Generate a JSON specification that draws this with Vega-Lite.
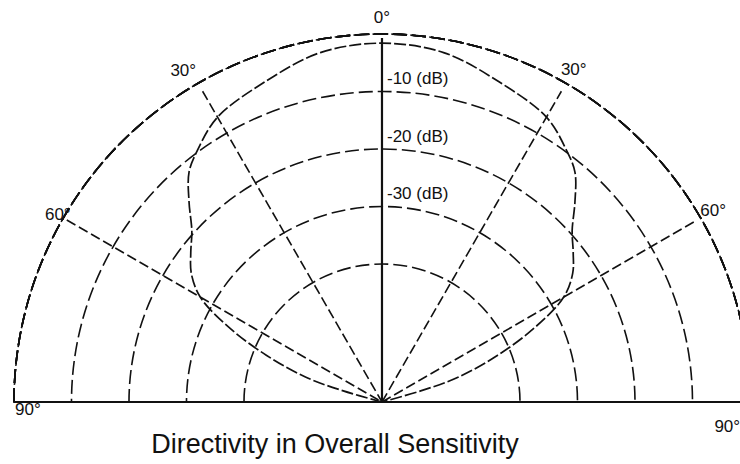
{
  "$schema": "https://vega.github.io/schema/vega-lite/v6.json",
  "width": 740,
  "height": 425,
  "autosize": {"type": "none"},
  "padding": {"left": 0, "top": 0, "right": 0, "bottom": 39},
  "background": "white",
  "config": {"view": {"stroke": null}, "font": "Liberation Sans"},
  "title": {"text": "Directivity in Overall Sensitivity", "orient": "bottom", "anchor": "middle", "dx": -35, "offset": -3, "fontSize": 27, "font": "Liberation Sans", "fontWeight": "normal", "color": "#111"},
  "datasets": {
    "rings": [
      {"db": 0, "from": -90, "to": 90},
      {"db": -10, "from": -90, "to": 90},
      {"db": -20, "from": -90, "to": 90},
      {"db": -30, "from": -90, "to": 90},
      {"db": -40, "from": -90, "to": 90}
    ],
    "spokes": [
      {"spoke": "-60", "angle": -60, "db": -64}, {"spoke": "-60", "angle": -60, "db": -0.7},
      {"spoke": "-30", "angle": -30, "db": -64}, {"spoke": "-30", "angle": -30, "db": -1.6},
      {"spoke": "30", "angle": 30, "db": -64}, {"spoke": "30", "angle": 30, "db": -1.6},
      {"spoke": "60", "angle": 60, "db": -64}, {"spoke": "60", "angle": 60, "db": -0.9}
    ],
    "axes": [
      {"spoke": "base", "angle": -90, "db": 0}, {"spoke": "base", "angle": 90, "db": 0},
      {"spoke": "zero", "angle": 0, "db": -64}, {"spoke": "zero", "angle": 0, "db": -0.7}
    ],
    "pattern": [
      {"i": 0, "angle": -76, "db": -64},
      {"i": 1, "angle": -74, "db": -57.0},
      {"i": 2, "angle": -72, "db": -50.1},
      {"i": 3, "angle": -68, "db": -42.3},
      {"i": 4, "angle": -64, "db": -34.4},
      {"i": 5, "angle": -60, "db": -27.5},
      {"i": 6, "angle": -56, "db": -24.0},
      {"i": 7, "angle": -52, "db": -21.8},
      {"i": 8, "angle": -48, "db": -19.5},
      {"i": 9, "angle": -44, "db": -15.7},
      {"i": 10, "angle": -40, "db": -11.8},
      {"i": 11, "angle": -36, "db": -9.6},
      {"i": 12, "angle": -30, "db": -6.8},
      {"i": 13, "angle": -20, "db": -4.7},
      {"i": 14, "angle": -10, "db": -2.3},
      {"i": 15, "angle": 0, "db": -1.6},
      {"i": 16, "angle": 10, "db": -2.3},
      {"i": 17, "angle": 20, "db": -4.7},
      {"i": 18, "angle": 30, "db": -6.8},
      {"i": 19, "angle": 36, "db": -9.6},
      {"i": 20, "angle": 40, "db": -11.8},
      {"i": 21, "angle": 44, "db": -15.7},
      {"i": 22, "angle": 48, "db": -19.5},
      {"i": 23, "angle": 52, "db": -21.8},
      {"i": 24, "angle": 56, "db": -24.0},
      {"i": 25, "angle": 60, "db": -27.5},
      {"i": 26, "angle": 64, "db": -34.4},
      {"i": 27, "angle": 68, "db": -42.3},
      {"i": 28, "angle": 72, "db": -50.1},
      {"i": 29, "angle": 74, "db": -57.0},
      {"i": 30, "angle": 76, "db": -64}
    ],
    "angleLabels": [
      {"label": "0°", "angle": 0, "db": 2.8},
      {"label": "30°", "angle": -31, "db": 3.1},
      {"label": "30°", "angle": 30, "db": 2.7},
      {"label": "60°", "angle": -60, "db": 1.1},
      {"label": "60°", "angle": 60, "db": 2.5},
      {"label": "90°", "angle": -91.3, "db": -2.4},
      {"label": "90°", "angle": 94.1, "db": -3.8}
    ],
    "levelLabels": [
      {"label": "-10 (dB)", "angle": 0, "db": -10},
      {"label": "-20 (dB)", "angle": 0, "db": -20},
      {"label": "-30 (dB)", "angle": 0, "db": -30}
    ]
  },
  "layer": [
    {
      "data": {"name": "spokes"},
      "transform": [
        {"calculate": "(datum.db + 64) * sin(datum.angle * PI / 180)", "as": "px"},
        {"calculate": "(datum.db + 64) * cos(datum.angle * PI / 180)", "as": "py"}
      ],
      "mark": {"type": "line", "stroke": "#111", "strokeWidth": 1.6, "strokeDash": [10, 4]},
      "encoding": {
        "x": {"field": "px", "type": "quantitative", "scale": {"domain": [-66.43, 62.26], "nice": false, "zero": false}, "axis": null},
        "y": {"field": "py", "type": "quantitative", "scale": {"domain": [-4.0, 69.91], "nice": false, "zero": false}, "axis": null},
        "detail": {"field": "spoke"}
      }
    },
    {
      "data": {"name": "rings"},
      "mark": {"type": "arc", "filled": false, "stroke": "#111", "strokeWidth": 1.6, "strokeDash": [14, 5], "x": {"expr": "scale('x', 0)"}, "y": {"expr": "scale('y', 0)"}},
      "encoding": {
        "theta": {"field": "from", "type": "quantitative", "stack": null, "scale": {"domain": [-90, 90], "range": [-1.5708, 1.5708]}},
        "theta2": {"field": "to"},
        "radius": {"field": "db", "type": "quantitative", "stack": null, "scale": {"type": "linear", "domain": [-64, 0], "range": [0, 368], "zero": false}}
      }
    },
    {
      "data": {"name": "axes"},
      "transform": [
        {"calculate": "(datum.db + 64) * sin(datum.angle * PI / 180)", "as": "px"},
        {"calculate": "(datum.db + 64) * cos(datum.angle * PI / 180)", "as": "py"}
      ],
      "mark": {"type": "line", "stroke": "#111", "strokeWidth": 2.2},
      "encoding": {
        "x": {"field": "px", "type": "quantitative", "axis": null},
        "y": {"field": "py", "type": "quantitative", "axis": null},
        "detail": {"field": "spoke"}
      }
    },
    {
      "data": {"name": "pattern"},
      "transform": [
        {"calculate": "(datum.db + 64) * sin(datum.angle * PI / 180)", "as": "px"},
        {"calculate": "(datum.db + 64) * cos(datum.angle * PI / 180)", "as": "py"}
      ],
      "mark": {"type": "line", "stroke": "#111", "strokeWidth": 1.7, "strokeDash": [12, 3], "interpolate": "catmull-rom"},
      "encoding": {
        "x": {"field": "px", "type": "quantitative", "axis": null},
        "y": {"field": "py", "type": "quantitative", "axis": null},
        "order": {"field": "i", "type": "quantitative"}
      }
    },
    {
      "data": {"name": "angleLabels"},
      "transform": [
        {"calculate": "(datum.db + 64) * sin(datum.angle * PI / 180)", "as": "px"},
        {"calculate": "(datum.db + 64) * cos(datum.angle * PI / 180)", "as": "py"}
      ],
      "mark": {"type": "text", "fontSize": 17, "font": "Liberation Sans", "color": "#111", "align": "center", "baseline": "middle"},
      "encoding": {
        "x": {"field": "px", "type": "quantitative", "axis": null},
        "y": {"field": "py", "type": "quantitative", "axis": null},
        "text": {"field": "label"}
      }
    },
    {
      "data": {"name": "levelLabels"},
      "transform": [
        {"calculate": "(datum.db + 64) * sin(datum.angle * PI / 180)", "as": "px"},
        {"calculate": "(datum.db + 64) * cos(datum.angle * PI / 180)", "as": "py"}
      ],
      "mark": {"type": "text", "fontSize": 17, "font": "Liberation Sans", "color": "#111", "align": "left", "baseline": "middle", "dx": 5, "dy": -12},
      "encoding": {
        "x": {"field": "px", "type": "quantitative", "axis": null},
        "y": {"field": "py", "type": "quantitative", "axis": null},
        "text": {"field": "label"}
      }
    }
  ]
}
